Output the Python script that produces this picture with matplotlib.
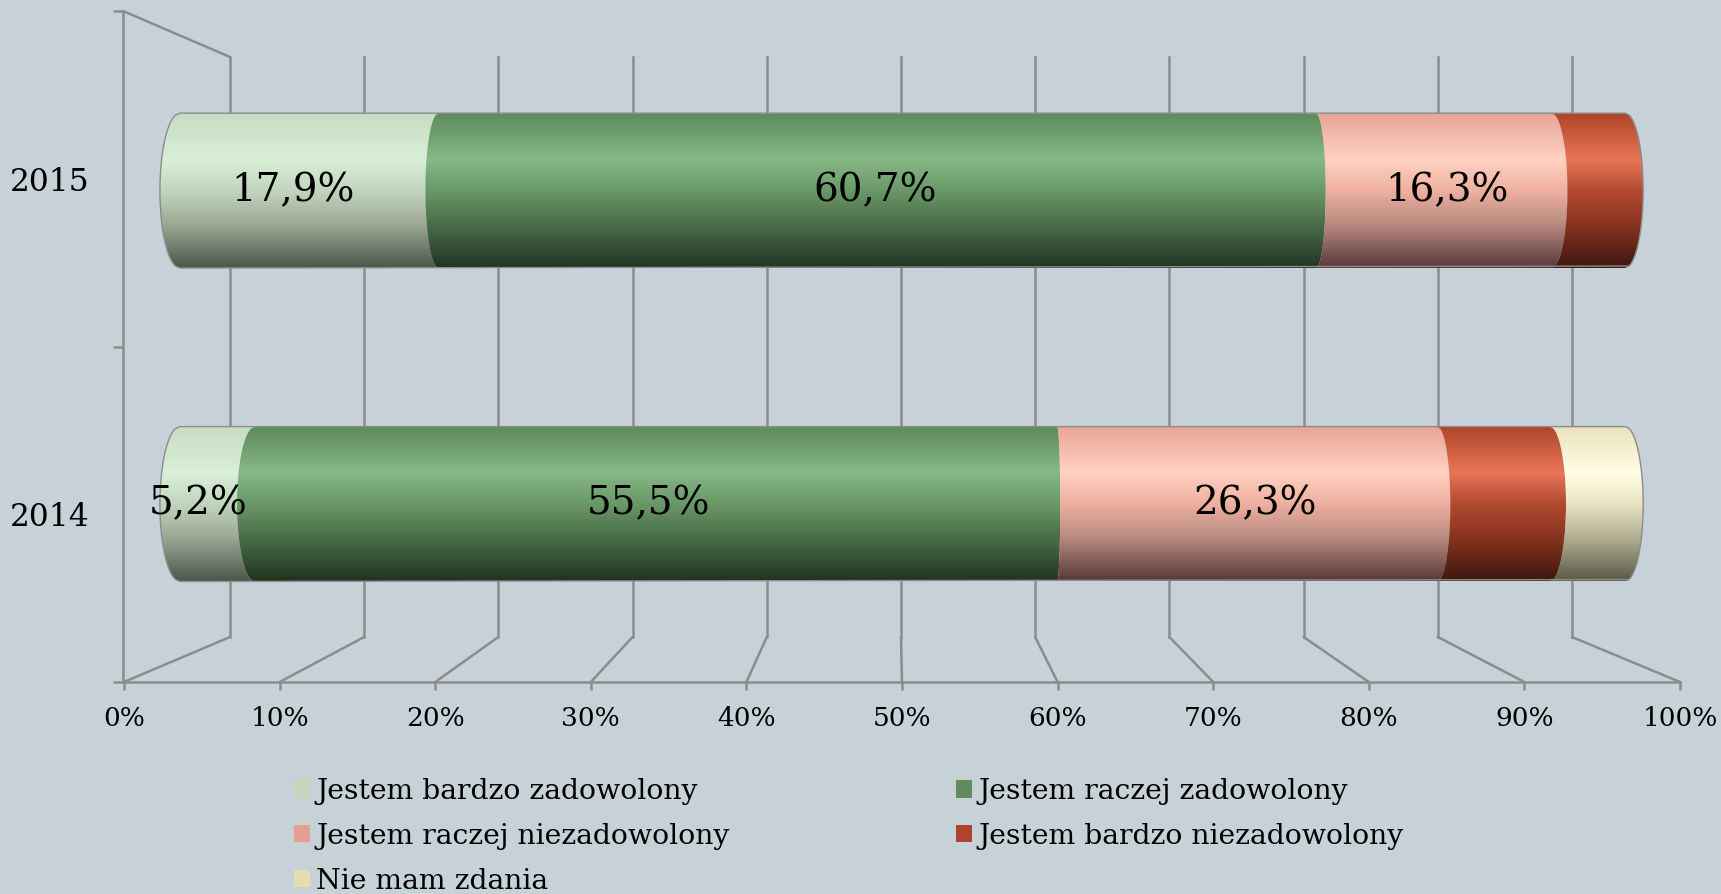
import numpy as np
import matplotlib
matplotlib.use("Agg")
import matplotlib.pyplot as plt
from matplotlib.patches import PathPatch, Patch, ConnectionPatch
from matplotlib.path import Path
from matplotlib.colors import to_rgb
from matplotlib.ticker import FixedLocator, FuncFormatter

# ---- data -------------------------------------------------------------
years = ["2014", "2015"]
series_names = [
    "Jestem bardzo zadowolony",
    "Jestem raczej zadowolony",
    "Jestem raczej niezadowolony",
    "Jestem bardzo niezadowolony",
    "Nie mam zdania",
]
bardzo_zadowolony = [5.2, 17.9]
raczej_zadowolony = [55.5, 60.7]
raczej_niezadowolony = [26.3, 16.3]
bardzo_niezadowolony = [7.8, 5.1]
nie_mam_zdania = [5.2, 0.0]
series_values = [bardzo_zadowolony, raczej_zadowolony, raczej_niezadowolony,
                 bardzo_niezadowolony, nie_mam_zdania]
show_label = [True, True, True, False, False]
pct_ticks = list(range(0, 101, 10))

# ---- style ------------------------------------------------------------
BG = "#c6d1d8"
WALL = "#8c8c8c"
SERIF = "DejaVu Serif"
legend_colors = ["#c3d6bd", "#5f8c5c", "#e5a090", "#b0432b", "#e6dcb2"]
shade_pos = [0.0, 0.3, 0.5, 0.72, 1.0]
shades = [
    ["#c8dcc4", "#d9efd8", "#c2d6be", "#9ca894", "#4b584a"],
    ["#5d8b5b", "#87b886", "#6a9868", "#4a6e48", "#223322"],
    ["#e7a494", "#ffd2c2", "#eeb0a0", "#b88a80", "#583838"],
    ["#ae4529", "#e87656", "#b24a30", "#883420", "#3e1810"],
    ["#e9e2bc", "#fffde6", "#e9e5c2", "#b2ae92", "#5a5a48"],
]

W, H = 1721, 894
fig = plt.figure(figsize=(W / 100, H / 100), dpi=100, facecolor=BG)


def box(x0, y0, x1, y1):
    """Figure rectangle from pixel edges measured from the top-left corner."""
    return [x0 / W, 1 - y1 / H, (x1 - x0) / W, (y1 - y0) / H]


def bare(ax):
    ax.set_facecolor("none")
    for s in ax.spines.values():
        s.set_visible(False)


# back wall with the vertical gridlines
back = fig.add_axes(box(230, 57, 1572, 637), zorder=0)
bare(back)
back.set_xlim(0, 100)
back.set_ylim(0, 1)
back.xaxis.set_major_locator(FixedLocator(pct_ticks))
back.set_yticks([])
back.tick_params(axis="x", length=0, labelbottom=False)
back.grid(axis="x", color=WALL, linewidth=1.8)
for gl in back.get_xgridlines():
    gl.set_clip_on(False)

# floor edge carrying the percentage scale
floor = fig.add_axes(box(124, 637, 1680, 682), zorder=1)
bare(floor)
floor.spines["bottom"].set_visible(True)
floor.spines["bottom"].set_color(WALL)
floor.spines["bottom"].set_linewidth(1.8)
floor.set_xlim(0, 100)
floor.set_ylim(0, 1)
floor.set_yticks([])
floor.xaxis.set_major_locator(FixedLocator(pct_ticks))
floor.xaxis.set_major_formatter(FuncFormatter(lambda v, _: f"{v:.0f}%"))
floor.tick_params(axis="x", length=6, width=1.8, color=WALL, pad=11,
                  labelsize=19)
for t in floor.get_xticklabels():
    t.set_fontfamily(SERIF)

# left wall carrying the year categories
wall = fig.add_axes(box(123, 11, 230, 682), zorder=1)
bare(wall)
wall.spines["left"].set_visible(True)
wall.spines["left"].set_color(WALL)
wall.spines["left"].set_linewidth(1.8)
wall.set_ylim(-0.5, len(years) - 0.5)
wall.set_xticks([])
wall.set_yticks(range(len(years)))
wall.set_yticklabels(years, fontfamily=SERIF, fontsize=22.5)
wall.set_yticks(np.arange(-0.5, len(years), 1.0), minor=True)
wall.tick_params(axis="y", which="major", length=0, pad=24)
wall.tick_params(axis="y", which="minor", length=7, width=1.8, color=WALL)

# perspective edges joining the back wall to the front edges
for v in pct_ticks:
    fig.add_artist(ConnectionPatch(xyA=(v, 0), coordsA=back.transData,
                                   xyB=(v, 0), coordsB=floor.transData,
                                   color=WALL, linewidth=1.8))
fig.add_artist(ConnectionPatch(xyA=(0, 1), coordsA=back.transAxes,
                               xyB=(0, 1), coordsB=wall.transAxes,
                               color=WALL, linewidth=1.8))

# ---- cylinder bars ----------------------------------------------------
XLIM = (-2, 102)
YLIM = (-1.244, 1.608)
ax = fig.add_axes(box(151, 0, 1654, 894), zorder=3)
bare(ax)
ax.set_xticks([])
ax.set_yticks([])

BAR_H = 0.494
CURVE_K, CURVE_C = 0.0263, 52.5   # end-cap bulge grows away from the view centre
yy = np.linspace(-1, 1, 81)
arc = np.sqrt(np.clip(1 - yy ** 2, 0, 1))


def bulge(xb):
    return CURVE_K * (xb - CURVE_C)


def edge(xb):
    return xb + bulge(xb) * arc


def gradient(stops, n=256):
    t = np.linspace(0, 1, n)
    rgb = np.array([to_rgb(c) for c in stops])
    return np.stack([np.interp(t, shade_pos, rgb[:, k]) for k in range(3)],
                    axis=-1)[:, None, :]


for yi in range(len(years)):
    yc = yi
    ys = yc + yy * BAR_H / 2
    left = 0.0
    for si, vals in enumerate(series_values):
        v = vals[yi]
        if v <= 0:
            continue
        right = left + v
        xs = np.concatenate([edge(left), edge(right)[::-1]])
        ysp = np.concatenate([ys, ys[::-1]])
        patch = PathPatch(Path(np.column_stack([xs, ysp]), closed=False),
                          facecolor="none", edgecolor="none")
        ax.add_patch(patch)
        im = ax.imshow(gradient(shades[si]), aspect="auto", origin="upper",
                       extent=(left - 3, right + 3, yc - BAR_H / 2, yc + BAR_H / 2),
                       interpolation="bilinear", zorder=2)
        im.set_clip_path(patch)
        if show_label[si]:
            xm = (left + bulge(left) + right + bulge(right)) / 2
            ax.text(xm, yc, f"{v:.1f}%".replace(".", ","), ha="center",
                    va="center", fontsize=28, fontfamily=SERIF, color="black",
                    zorder=5)
        left = right
    xs = np.concatenate([edge(0.0), edge(left)[::-1]])
    ysp = np.concatenate([ys, ys[::-1]])
    ax.add_patch(PathPatch(Path(np.column_stack([xs, ysp]), closed=True),
                           facecolor="none", edgecolor=WALL, linewidth=1.0,
                           zorder=4))

ax.set_xlim(*XLIM)
ax.set_ylim(*YLIM)

# ---- legend: two columns placed side by side --------------------------
handles = [Patch(facecolor=c, edgecolor="none") for c in legend_colors]
legend_style = dict(loc="upper left", frameon=False, handlelength=0.57,
                    handleheight=0.57, handletextpad=0.21, labelspacing=0.63,
                    borderpad=0, borderaxespad=0,
                    prop={"family": SERIF, "size": 20.3})
col_a = [0, 2, 4]
col_b = [1, 3]
fig.legend([handles[i] for i in col_a], [series_names[i] for i in col_a],
           bbox_to_anchor=(294 / W, 1 - 778 / H), **legend_style)
fig.legend([handles[i] for i in col_b], [series_names[i] for i in col_b],
           bbox_to_anchor=(956 / W, 1 - 778 / H), **legend_style)

fig.savefig("out.png", dpi=100, facecolor=BG)
